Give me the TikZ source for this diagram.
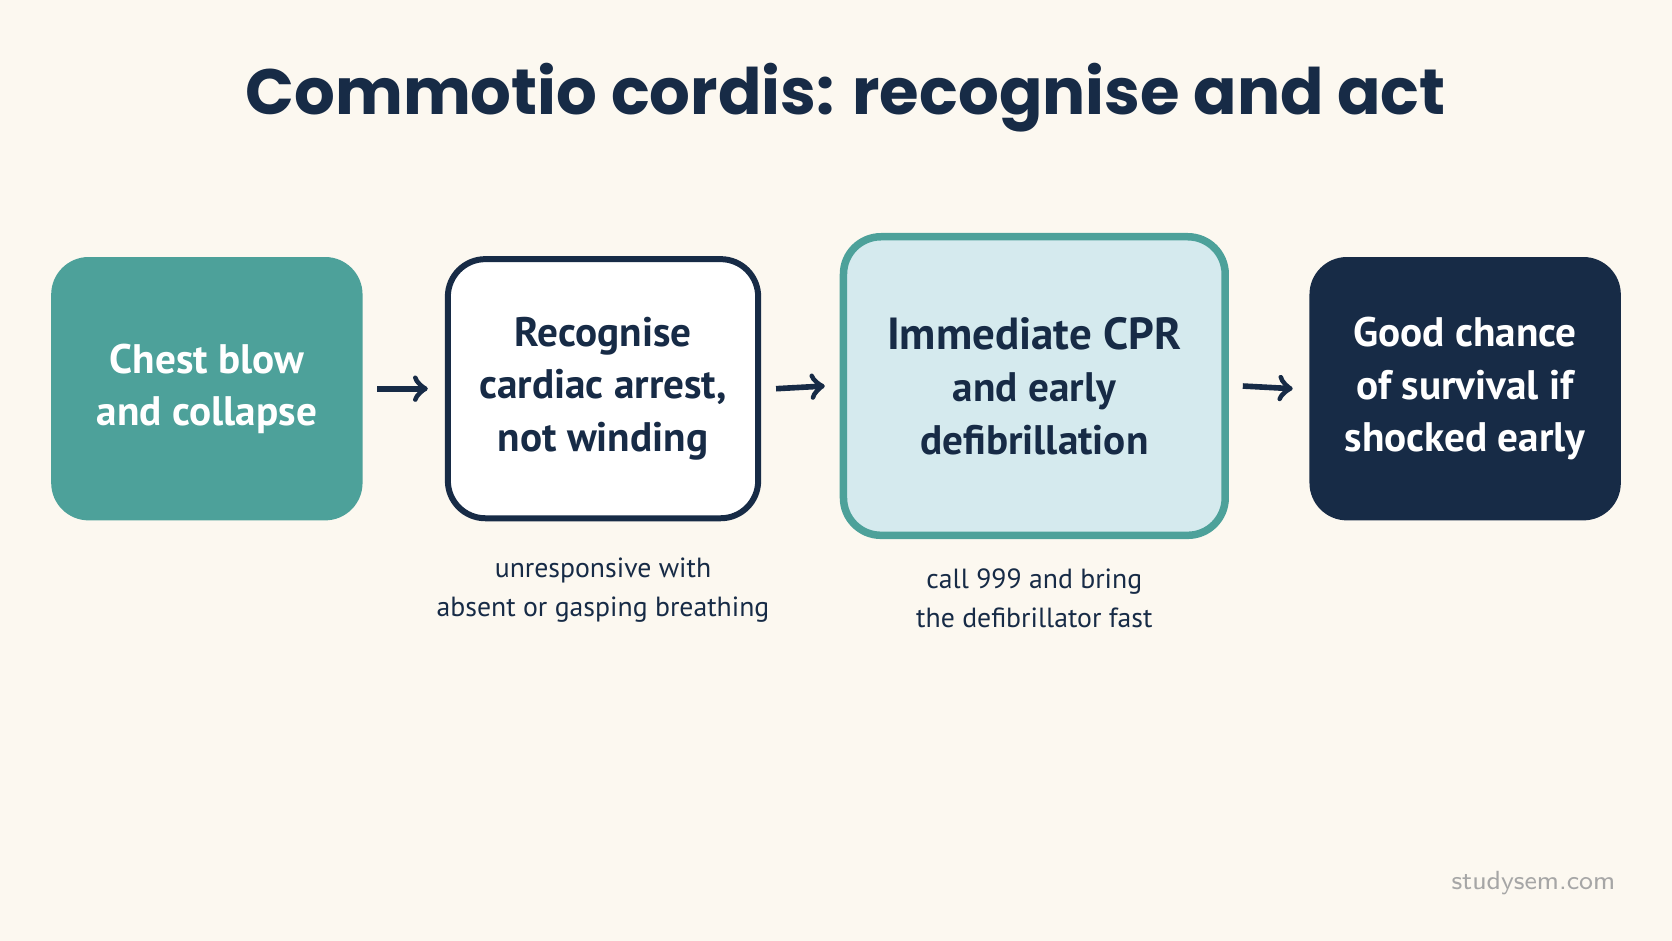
\documentclass[tikz,border=0pt]{standalone}
\usepackage{fontspec}
\setmainfont{PT Sans}
\newfontfamily\titlefont{Poppins}
\usetikzlibrary{positioning}
\definecolor{bgcol}{HTML}{FCF8F0}
\definecolor{navy}{HTML}{172B46}
\definecolor{teal}{HTML}{4DA19A}
\definecolor{ice}{HTML}{D5EAEE}
\tikzset{
    stage/.style = {rectangle,
                    rounded corners=10pt,
                    align=center,
                    font=\fontsize{11}{14}\selectfont\bfseries,
                    inner sep=0pt},
    note/.style = {align=center,
                    text=navy,
                    font=\fontsize{7.4}{10.5}\selectfont},
    flow/.style = {->,
                    >=to,
                    line width=1.5pt,
                    draw=navy}
}
\begin{document}
\begin{tikzpicture}
                \useasboundingbox[fill=bgcol] (0,0) rectangle (15.68,-8.82);
                \node[font=\titlefont\fontsize{17.1}{20}\selectfont\bfseries,text=navy] (title) at (7.93,-0.92) {Commotio cordis: recognise and act};

                \node[stage,fill=teal,text=white,minimum width=2.92cm,minimum height=2.47cm] (blow) at (1.94,-3.645) {Chest blow\\and collapse};
                \node[stage,fill=white,draw=navy,line width=1.6pt,text=navy,minimum width=2.91cm,minimum height=2.43cm] (recog) at (5.655,-3.645) {Recognise\\cardiac arrest,\\not winding};
                \node[stage,fill=ice,draw=teal,line width=2pt,text=navy,minimum width=3.58cm,minimum height=2.8cm] (cpr) at (9.70,-3.62) {\fontsize{12}{15.5}\selectfont Immediate CPR\\and early\\defibrillation};
                \node[stage,fill=navy,text=white,minimum width=2.92cm,minimum height=2.47cm] (shock) at (13.74,-3.645) {Good chance\\of survival if\\shocked early};

                \node[note] (resp) [below=0.22cm of recog] {unresponsive with\\absent or gasping breathing};
                \node[note] (call) [below=0.15cm of cpr] {call 999 and bring\\the defibrillator fast};
                \node[text=gray!70,font=\sffamily\fontsize{7}{8}\selectfont] (mark) at (14.38,-8.28) {studysem.com};

                \draw[flow] ([xshift=0.13cm]blow.east) -- ([xshift=-0.16cm]recog.west);
                \draw[flow] ([xshift=0.14cm]recog.east) -- ([xshift=-0.14cm]cpr.west);
                \draw[flow] ([xshift=0.13cm]cpr.east) -- ([xshift=-0.15cm]shock.west);
\end{tikzpicture}
\end{document}
